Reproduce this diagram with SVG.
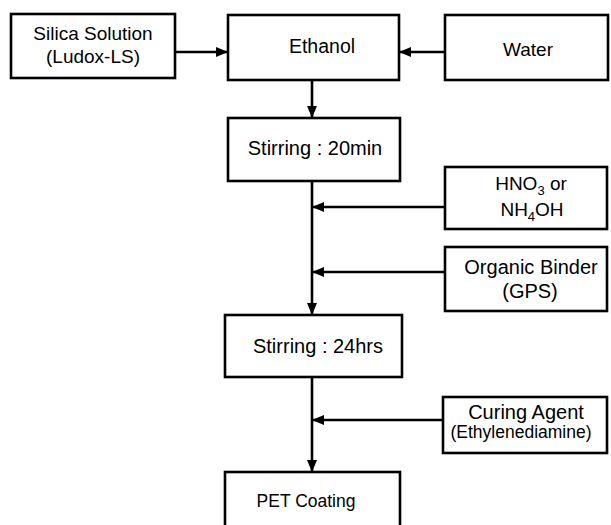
<svg xmlns="http://www.w3.org/2000/svg" width="611" height="525" viewBox="0 0 611 525">
<defs>
<style>
.box{fill:#fff;stroke:#000;stroke-width:2.6}
.ln{fill:none;stroke:#000;stroke-width:2.6}
text{font-family:"Liberation Sans",Arial,sans-serif;fill:#000;text-anchor:middle}
</style>
<marker id="ah" markerWidth="12" markerHeight="10" refX="11" refY="5" orient="auto" markerUnits="userSpaceOnUse">
<path d="M0,0 L12,5 L0,10 Z" fill="#000"/>
</marker>
</defs>
<rect width="611" height="525" fill="#fff"/>
<g id="connectors">
<line class="ln" x1="175" y1="52" x2="227" y2="52" marker-end="url(#ah)"/>
<line class="ln" x1="445" y1="52" x2="400" y2="52" marker-end="url(#ah)"/>
<line class="ln" x1="312" y1="80" x2="312" y2="117" marker-end="url(#ah)"/>
<line class="ln" x1="312" y1="181" x2="312" y2="314" marker-end="url(#ah)"/>
<line class="ln" x1="445" y1="207" x2="313" y2="207" marker-end="url(#ah)"/>
<line class="ln" x1="445" y1="272" x2="313" y2="272" marker-end="url(#ah)"/>
<line class="ln" x1="312" y1="377" x2="312" y2="471" marker-end="url(#ah)"/>
<line class="ln" x1="443" y1="420" x2="313" y2="420" marker-end="url(#ah)"/>
</g>
<g id="silica">
<rect class="box" x="11" y="14" width="164" height="64"/>
<text x="93" y="40" font-size="19">Silica Solution</text>
<text x="93" y="63" font-size="19">(Ludox-LS)</text>
</g>
<g id="ethanol">
<rect class="box" x="228" y="15" width="171" height="65"/>
<text x="322" y="53" font-size="19.5">Ethanol</text>
</g>
<g id="water">
<rect class="box" x="445" y="15" width="163" height="65"/>
<text x="528" y="56" font-size="19">Water</text>
</g>
<g id="stirring20">
<rect class="box" x="228" y="118" width="172" height="63"/>
<text x="315" y="155" font-size="20">Stirring : 20min</text>
</g>
<g id="acid">
<rect class="box" x="445" y="167" width="162" height="62"/>
<text x="531" y="190" font-size="19">HNO<tspan font-size="13" dy="5">3</tspan><tspan dy="-5"> or</tspan></text>
<text x="532" y="216" font-size="19">NH<tspan font-size="13" dy="5">4</tspan><tspan dy="-5">OH</tspan></text>
</g>
<g id="binder">
<rect class="box" x="445" y="247" width="162" height="64"/>
<text x="531" y="274" font-size="20">Organic Binder</text>
<text x="530" y="298" font-size="20">(GPS)</text>
</g>
<g id="stirring24">
<rect class="box" x="225" y="315" width="177" height="62"/>
<text x="318" y="353" font-size="20">Stirring : 24hrs</text>
</g>
<g id="curing">
<rect class="box" x="443" y="397" width="164" height="56"/>
<text x="526" y="419" font-size="20">Curing Agent</text>
<text x="521" y="438" font-size="17.5">(Ethylenediamine)</text>
</g>
<g id="pet">
<rect class="box" x="225" y="472" width="175" height="60"/>
<text x="306" y="507" font-size="17.5">PET Coating</text>
</g>
</svg>
